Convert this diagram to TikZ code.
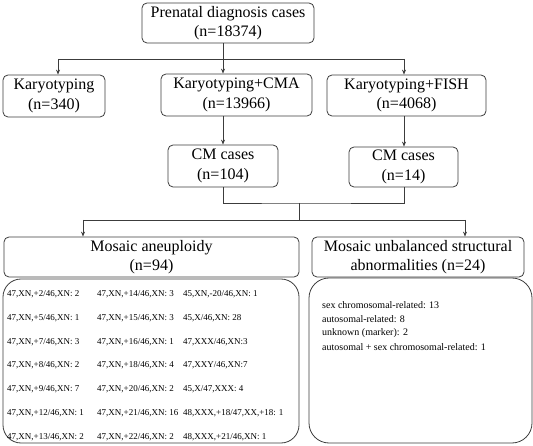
\documentclass[tikz,border=0pt]{standalone}
\usepackage{fontspec}
\setmainfont{Liberation Serif}
\usetikzlibrary{arrows.meta}
\definecolor{linegray}{RGB}{60,60,60}
\tikzset{
  box/.style={draw=linegray, line width=0.8pt, rounded corners=5pt, align=center, inner sep=0pt, font=\fontsize{16}{19.5}\selectfont},
  panel/.style={draw=linegray, line width=0.8pt, rounded corners=18pt, inner sep=0pt},
  item/.style={anchor=west, inner sep=0pt, font=\fontsize{9}{11}\selectfont},
  note/.style={anchor=west, inner sep=0pt, font=\fontsize{10}{12}\selectfont},
  link/.style={draw=linegray, line width=0.8pt},
  arr/.style={link, -{Stealth[length=5pt,width=4pt]}},
}
\begin{document}
\begin{tikzpicture}[x=1pt,y=-1pt]
    \useasboundingbox (0,0) rectangle (533,446);

    % Top level
    \node[box, minimum width=172, minimum height=40] (prenatal) at (228,23) {Prenatal diagnosis cases\\(n=18374)};

    % Methods
    \node[box, minimum width=102, minimum height=42] (karyo) at (54,96) {Karyotyping\\(n=340)};
    \node[box, minimum width=151, minimum height=42] (cma) at (236.5,95) {Karyotyping+CMA\\(n=13966)};
    \node[box, minimum width=159, minimum height=41] (fish) at (406.5,95.5) {Karyotyping+FISH\\(n=4068)};

    % CM cases
    \node[box, minimum width=110, minimum height=42] (cml) at (223,166) {CM cases\\(n=104)};
    \node[box, minimum width=109, minimum height=40] (cmr) at (403.5,167) {CM cases\\(n=14)};

    % Groups
    \node[box, minimum width=295, minimum height=40] (aneu) at (151.5,257) {Mosaic aneuploidy\\(n=94)};
    \node[box, minimum width=212, minimum height=40] (unbal) at (418,257) {Mosaic unbalanced structural\\abnormalities (n=24)};

    % Panels
    \node[panel, minimum width=296, minimum height=164] (aneulist) at (151,361) {};
    \node[panel, minimum width=223, minimum height=165, rounded corners=20pt] (unballist) at (420.5,360.5) {};

    % Connectors
    \coordinate (j1) at (223,59);
    \coordinate (kin) at (58,59);
    \coordinate (fin) at (404,59);
    \draw[link] (prenatal.south -| j1) -- (j1);
    \draw[link] (kin) -- (fin);
    \draw[arr] (kin) -- (kin |- karyo.north);
    \draw[arr] (j1) -- (j1 |- cma.north);
    \draw[arr] (fin) -- (fin |- fish.north);
    \draw[arr] (cma.south -| cml) -- (cml.north);
    \draw[arr] (fish.south -| fin) -- (fin |- cmr.north);

    \coordinate (j2) at (299,203);
    \coordinate (j3) at (299,220);
    \coordinate (al) at (83,220);
    \coordinate (ar) at (465,220);
    \draw[link] (cml.south) |- (j2) -| (fin |- cmr.south);
    \draw[link] (j2) -- (j3);
    \draw[link] (al) -- (ar);
    \draw[arr] (al) -- (al |- aneu.north);
    \draw[arr] (ar) -- (ar |- unbal.north);

    % Aneuploidy list
    \node[item] (a1) at (7,294) {47,XN,+2/46,XN: 2};
    \node[item] (a2) at (7,318) {47,XN,+5/46,XN: 1};
    \node[item] (a3) at (7,342) {47,XN,+7/46,XN: 3};
    \node[item] (a4) at (7,365) {47,XN,+8/46,XN: 2};
    \node[item] (a5) at (7,389) {47,XN,+9/46,XN: 7};
    \node[item] (a6) at (7,413) {47,XN,+12/46,XN: 1};
    \node[item] (a7) at (7,437) {47,XN,+13/46,XN: 2};

    \node[item] (b1) at (97,294) {47,XN,+14/46,XN: 3};
    \node[item] (b2) at (97,318) {47,XN,+15/46,XN: 3};
    \node[item] (b3) at (97,342) {47,XN,+16/46,XN: 1};
    \node[item] (b4) at (97,365) {47,XN,+18/46,XN: 4};
    \node[item] (b5) at (97,389) {47,XN,+20/46,XN: 2};
    \node[item] (b6) at (97,413) {47,XN,+21/46,XN: 16};
    \node[item] (b7) at (97,437) {47,XN,+22/46,XN: 2};

    \node[item] (c1) at (183,294) {45,XN,-20/46,XN: 1};
    \node[item] (c2) at (183,318) {45,X/46,XN: 28};
    \node[item] (c3) at (183,342) {47,XXX/46,XN:3};
    \node[item] (c4) at (183,365) {47,XXY/46,XN:7};
    \node[item] (c5) at (183,389) {45,X/47,XXX: 4};
    \node[item] (c6) at (183,413) {48,XXX,+18/47,XX,+18: 1};
    \node[item] (c7) at (183,437) {48,XXX,+21/46,XN: 1};

    % Structural list
    \node[note] (s1) at (322,305) {sex chromosomal-related: 13};
    \node[note] (s2) at (322,319) {autosomal-related: 8};
    \node[note] (s3) at (322,333) {unknown (marker): 2};
    \node[note] (s4) at (322,347) {autosomal + sex chromosomal-related: 1};
\end{tikzpicture}
\end{document}
